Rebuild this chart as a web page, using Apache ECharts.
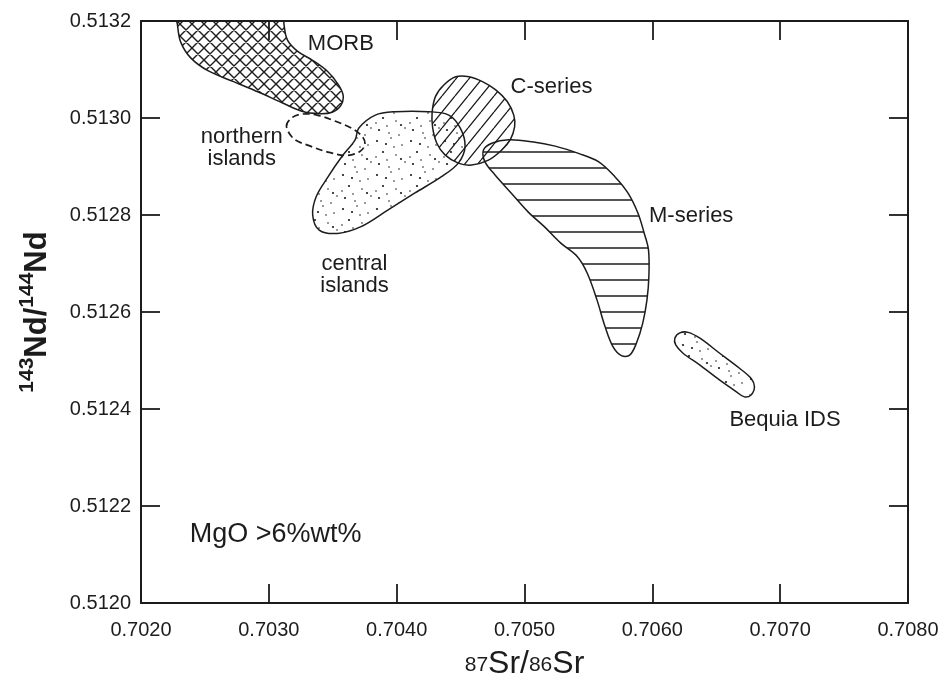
<!DOCTYPE html>
<html>
<head>
<meta charset="utf-8">
<script src="https://cdn.jsdelivr.net/npm/echarts@6/dist/echarts.min.js"></script>
<style>
  html, body { margin: 0; padding: 0; background: #fff; }
  #chart { width: 945px; height: 688px; }
</style>
</head>
<body>
<div id="chart"></div>
<script>
// field outlines as [87Sr/86Sr, 143Nd/144Nd]
const morb = [
  [0.702273, 0.513218], [0.702284, 0.513194], [0.702310, 0.513157], [0.702389, 0.513124],
  [0.702527, 0.513097], [0.702724, 0.513075], [0.702922, 0.513053], [0.703100, 0.513032],
  [0.703258, 0.513014], [0.703397, 0.513009], [0.703496, 0.513012], [0.703564, 0.513026],
  [0.703581, 0.513047], [0.703538, 0.513071], [0.703460, 0.513096], [0.703342, 0.513119],
  [0.703223, 0.513138], [0.703145, 0.513161], [0.703118, 0.513194], [0.703111, 0.513218],
];
const northernIslands = [
  [0.703138, 0.512983], [0.703178, 0.513000], [0.703258, 0.513008], [0.703377, 0.513006],
  [0.703515, 0.512994], [0.703654, 0.512978], [0.703733, 0.512961], [0.703752, 0.512945],
  [0.703712, 0.512931], [0.703612, 0.512923], [0.703473, 0.512929], [0.703315, 0.512943],
  [0.703196, 0.512957],
];
const centralIslands = [
  [0.703703, 0.512979], [0.703833, 0.513006], [0.703990, 0.513013], [0.704251, 0.513013],
  [0.704408, 0.513006], [0.704498, 0.512979], [0.704535, 0.512941], [0.704482, 0.512907],
  [0.704351, 0.512879], [0.704140, 0.512845], [0.703930, 0.512810], [0.703721, 0.512776],
  [0.703538, 0.512762], [0.703394, 0.512769], [0.703343, 0.512800], [0.703371, 0.512838],
  [0.703464, 0.512879], [0.703570, 0.512920], [0.703675, 0.512955],
];
const cSeries = [
  [0.704277, 0.513010], [0.704303, 0.513044], [0.704369, 0.513068], [0.704462, 0.513085],
  [0.704567, 0.513085], [0.704671, 0.513075], [0.704775, 0.513058], [0.704865, 0.513034],
  [0.704916, 0.513006], [0.704923, 0.512982], [0.704888, 0.512955], [0.704822, 0.512934],
  [0.704718, 0.512913], [0.704586, 0.512903], [0.704482, 0.512907], [0.704378, 0.512924],
  [0.704314, 0.512948], [0.704282, 0.512979],
];
const mSeries = [
  [0.704679, 0.512934], [0.704744, 0.512948], [0.704876, 0.512955], [0.705058, 0.512951],
  [0.705240, 0.512942], [0.705422, 0.512927], [0.705578, 0.512910], [0.705707, 0.512879],
  [0.705810, 0.512845], [0.705887, 0.512804], [0.705937, 0.512762], [0.705970, 0.512728],
  [0.705973, 0.512673], [0.705958, 0.512625], [0.705925, 0.512577], [0.705876, 0.512536],
  [0.705823, 0.512511], [0.705758, 0.512510], [0.705693, 0.512528], [0.705630, 0.512570],
  [0.705567, 0.512625], [0.705491, 0.512680], [0.705414, 0.512714], [0.705284, 0.512742],
  [0.705155, 0.512776], [0.705026, 0.512807], [0.704897, 0.512845], [0.704768, 0.512883],
  [0.704690, 0.512910],
];
const bequia = [
  [0.706176, 0.512546], [0.706215, 0.512557], [0.706280, 0.512558], [0.706372, 0.512546],
  [0.706527, 0.512515], [0.706682, 0.512484], [0.706773, 0.512463], [0.706799, 0.512446],
  [0.706772, 0.512429], [0.706720, 0.512425], [0.706655, 0.512436], [0.706525, 0.512460],
  [0.706370, 0.512491], [0.706240, 0.512515], [0.706183, 0.512532],
];

// [x, y, text, align]
const fieldLabels = [
  [0.703563, 0.513153, "MORB", "center"],
  [0.702788, 0.512938, "northern\nislands", "center"],
  [0.703670, 0.512676, "central\nislands", "center"],
  [0.705211, 0.513064, "C-series", "center"],
  [0.706304, 0.512798, "M-series", "center"],
  [0.707038, 0.512377, "Bequia IDS", "center"],
];
const noteText = [0.702381, 0.512142, "MgO >6%wt%"];

const ink = "#1c1c1c";
const font = "'Liberation Sans', Arial, Helvetica, sans-serif";

function makeTile(w, h, draw) {
  const c = document.createElement("canvas");
  c.width = w;
  c.height = h;
  const ctx = c.getContext("2d");
  ctx.strokeStyle = ink;
  ctx.fillStyle = ink;
  ctx.lineWidth = 1.3;
  draw(ctx, w, h);
  return { image: c, repeat: "repeat" };
}

const crossHatch = makeTile(12, 12, (ctx, w, h) => {
  ctx.lineWidth = 1.4;
  ctx.beginPath();
  for (const k of [-1, 0, 1]) {
    ctx.moveTo(k * w, 0); ctx.lineTo(k * w + w, h);
    ctx.moveTo(k * w + w, 0); ctx.lineTo(k * w, h);
  }
  ctx.stroke();
});
const diagonalHatch = makeTile(13, 16, (ctx, w, h) => {
  ctx.beginPath();
  for (const k of [-1, 0, 1]) {
    ctx.moveTo(k * w, h); ctx.lineTo(k * w + w, 0);
  }
  ctx.stroke();
});
const horizontalHatch = makeTile(10, 16, (ctx, w) => {
  ctx.lineWidth = 1.5;
  ctx.beginPath();
  ctx.moveTo(0, 8); ctx.lineTo(w, 8);
  ctx.stroke();
});
const stipple = makeTile(34, 34, (ctx) => {
  const dots = [[3, 5], [17, 2], [28, 9], [9, 16], [22, 19], [31, 26], [5, 28], [15, 31],
    [25, 33], [12, 8], [20, 11], [2, 21], [27, 23], [13, 24]];
  dots.forEach(([x, y], i) => {
    ctx.beginPath();
    ctx.arc(x, y, i % 3 === 0 ? 1.1 : 0.8, 0, Math.PI * 2);
    ctx.fill();
  });
});

function fieldSeries(name, pts, fill, dashed) {
  return {
    type: "custom",
    name,
    coordinateSystem: "cartesian2d",
    clip: true,
    silent: true,
    data: pts,
    renderItem(params, api) {
      if (params.dataIndex !== 0) return null;
      const points = pts.map((p) => api.coord(p));
      return {
        type: "polygon",
        shape: { points, smooth: 0.35 },
        style: {
          fill: fill || "none",
          stroke: ink,
          lineWidth: dashed ? 1.7 : 1.5,
          lineDash: dashed ? [7, 4] : null,
        },
      };
    },
  };
}

const chart = echarts.init(document.getElementById("chart"));

const axisLine = { show: true, lineStyle: { color: ink, width: 2 } };
const axisTick = { show: true, inside: true, length: 19, lineStyle: { color: ink, width: 1.8 } };
const labelStyle = { color: ink, fontSize: 20, fontFamily: font };

chart.setOption({
  animation: false,
  backgroundColor: "#fff",
  grid: { left: 141, right: 37, top: 21, bottom: 85 },
  xAxis: [
    {
      type: "value",
      min: 0.702,
      max: 0.708,
      interval: 0.001,
      position: "bottom",
      axisLine,
      axisTick,
      splitLine: { show: false },
      axisLabel: { ...labelStyle, margin: 17, showMinLabel: true, showMaxLabel: true,
        formatter: (v) => v.toFixed(4) },
      name: "{sup|87}{m|Sr/}{sup|86}{m|Sr}",
      nameLocation: "middle",
      nameGap: 45,
      nameTextStyle: {
        fontFamily: font,
        color: ink,
        rich: {
          m: { fontSize: 32, fontFamily: font, color: ink, lineHeight: 34, verticalAlign: "top" },
          sup: { fontSize: 21, fontFamily: font, color: ink, lineHeight: 34, verticalAlign: "middle" },
        },
      },
    },
    {
      type: "value",
      min: 0.702,
      max: 0.708,
      interval: 0.001,
      position: "top",
      axisLine,
      axisTick,
      splitLine: { show: false },
      axisLabel: { show: false },
    },
  ],
  yAxis: [
    {
      type: "value",
      min: 0.512,
      max: 0.5132,
      interval: 0.0002,
      position: "left",
      axisLine,
      axisTick,
      splitLine: { show: false },
      axisLabel: { ...labelStyle, margin: 10, showMinLabel: true, showMaxLabel: true,
        formatter: (v) => v.toFixed(4) },
      name: "{sup|143}{b|Nd/}{sup|144}{b|Nd}",
      nameLocation: "middle",
      nameRotate: 90,
      nameGap: 88,
      nameTextStyle: {
        fontFamily: font,
        color: ink,
        rich: {
          b: { fontSize: 31, fontWeight: "bold", fontFamily: font, color: ink, lineHeight: 36, verticalAlign: "bottom" },
          sup: { fontSize: 21, fontWeight: "bold", fontFamily: font, color: ink, lineHeight: 22, verticalAlign: "top" },
        },
      },
    },
    {
      type: "value",
      min: 0.512,
      max: 0.5132,
      interval: 0.0002,
      position: "right",
      axisLine,
      axisTick,
      splitLine: { show: false },
      axisLabel: { show: false },
    },
  ],
  series: [
    fieldSeries("MORB", morb, crossHatch),
    fieldSeries("central islands", centralIslands, stipple),
    fieldSeries("C-series", cSeries, diagonalHatch),
    fieldSeries("M-series", mSeries, horizontalHatch),
    fieldSeries("Bequia IDS", bequia, stipple),
    fieldSeries("northern islands", northernIslands, null, true),
    {
      type: "custom",
      name: "labels",
      silent: true,
      data: fieldLabels.map((l) => [l[0], l[1]]),
      renderItem(params, api) {
        const [x, y] = api.coord([api.value(0), api.value(1)]);
        const lab = fieldLabels[params.dataIndex];
        return {
          type: "text",
          x,
          y,
          style: {
            text: lab[2],
            fill: ink,
            fontSize: 22,
            fontFamily: font,
            lineHeight: 22,
            align: lab[3],
            verticalAlign: "middle",
          },
        };
      },
    },
    {
      type: "custom",
      name: "note",
      silent: true,
      data: [[noteText[0], noteText[1]]],
      renderItem(params, api) {
        const [x, y] = api.coord([api.value(0), api.value(1)]);
        return {
          type: "text",
          x,
          y,
          style: {
            text: noteText[2],
            fill: ink,
            fontSize: 27,
            fontFamily: font,
            align: "left",
            verticalAlign: "middle",
          },
        };
      },
    },
  ],
});

window.addEventListener("resize", () => chart.resize());
</script>
</body>
</html>
